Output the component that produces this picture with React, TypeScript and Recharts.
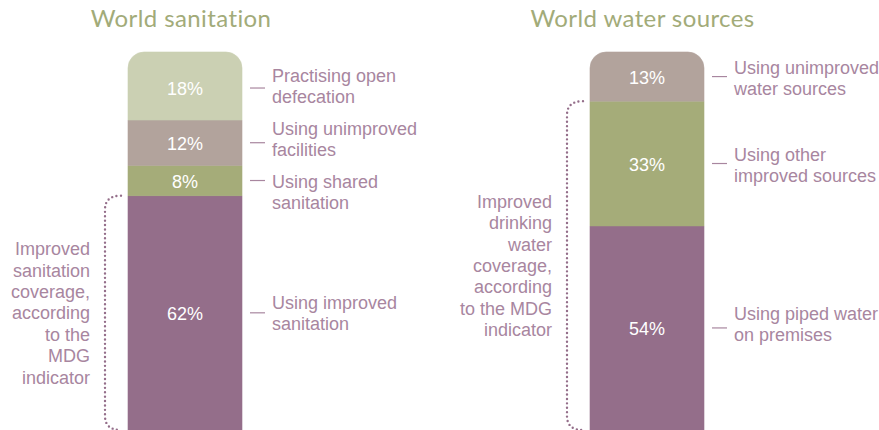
import React from 'react';
import { BarChart, Bar, XAxis, YAxis, ReferenceArea, LabelList } from 'recharts';

// ---- data ----
const sanitationKeys = ['improved', 'shared', 'unimproved', 'openDefecation'];
const sanitationValues = [62, 8, 12, 18];
const sanitationLabels = [
  ['Using improved', 'sanitation'],
  ['Using shared', 'sanitation'],
  ['Using unimproved', 'facilities'],
  ['Practising open', 'defecation'],
];
const sanitationImprovedCount = 1;
const sanitationNote = ['Improved', 'sanitation', 'coverage,', 'according', 'to the', 'MDG', 'indicator'];

const waterKeys = ['piped', 'otherImproved', 'unimproved'];
const waterValues = [54, 33, 13];
const waterLabels = [
  ['Using piped water', 'on premises'],
  ['Using other', 'improved sources'],
  ['Using unimproved', 'water sources'],
];
const waterImprovedCount = 2;
const waterNote = ['Improved', 'drinking', 'water', 'coverage,', 'according', 'to the MDG', 'indicator'];

const titles = ['World sanitation', 'World water sources'];

// ---- styles ----
const PURPLE = '#946e8a';
const OLIVE = '#a5ac79';
const TAUPE = '#b2a39c';
const PALE = '#cbd0b3';
const TEXT = '#a8869f';
const TITLE = '#a2ab79';
const FONT = '"Liberation Sans", Arial, sans-serif';

const sanitationColors = [PURPLE, OLIVE, TAUPE, PALE];
const waterColors = [PURPLE, OLIVE, TAUPE];
// vertical nudges of the side texts (layout only)
const sanitationShift = [0, 11.5, -4, 0];
const waterShift = [-4, 1.5, 1.5];
const sanitationPctShift = [0, 0, 0, 2];
const waterPctShift = [0, 0, 0];

const LINE = 21;

function makeSegmentLabel(pct: number, lines: string[], shift: number, pctShift: number) {
  return (props: any) => {
    const vb = props.viewBox || props;
    const x = Number(vb.x);
    const y = Number(vb.y);
    const w = Number(vb.width);
    const h = Number(vb.height);
    const cy = y + h / 2;
    const right = x + w;
    return (
      <g>
        <text x={x + w / 2} y={cy + 7 + pctShift} textAnchor="middle" fill="#ffffff" fontSize={18} fontFamily={FONT}>
          {pct}%
        </text>
        <line x1={right + 8} x2={right + 23} y1={cy + pctShift} y2={cy + pctShift} stroke={TEXT} strokeWidth={1.2} />
        {lines.map((t, i) => (
          <text
            key={i}
            x={right + 30}
            y={cy + shift + (i - (lines.length - 1) / 2) * LINE + 6.5}
            fill={TEXT}
            fontSize={18}
            fontFamily={FONT}
          >
            {t}
          </text>
        ))}
      </g>
    );
  };
}

function makeBracket(note: string[]) {
  return (props: any) => {
    const x = Number(props.x);
    const y = Number(props.y);
    const h = Number(props.height);
    const top = y;
    const bottom = y + h;
    const lx = x - 23;
    const d = `M ${x - 7} ${top} Q ${lx} ${top} ${lx} ${top + 14} L ${lx} ${bottom - 14} Q ${lx} ${bottom} ${x - 7} ${bottom}`;
    const center = (top + bottom) / 2;
    return (
      <g>
        <path d={d} fill="none" stroke={PURPLE} strokeWidth={2.4} strokeDasharray="0 4.4" strokeLinecap="round" />
        {note.map((t, i) => (
          <text
            key={i}
            x={x - 38}
            y={center + (i - (note.length - 1) / 2) * 21.4 + 6.5}
            textAnchor="end"
            fill={TEXT}
            fontSize={18}
            fontFamily={FONT}
          >
            {t}
          </text>
        ))}
      </g>
    );
  };
}

interface PanelProps {
  name: string;
  keys: string[];
  values: number[];
  labels: string[][];
  colors: string[];
  shifts: number[];
  pctShifts: number[];
  improvedCount: number;
  note: string[];
  left: number;
  width: number;
  mLeft: number;
  mRight: number;
}

function Panel(p: PanelProps) {
  const row: any = { name: p.name };
  p.keys.forEach((k, i) => (row[k] = p.values[i]));
  const improvedTotal = p.values.slice(0, p.improvedCount).reduce((a, b) => a + b, 0);
  const last = p.keys.length - 1;
  return (
    <div style={{ position: 'absolute', left: p.left, top: 0 }}>
      <BarChart
        width={p.width}
        height={430}
        data={[row]}
        margin={{ top: 52, right: p.mRight, bottom: 0, left: p.mLeft }}
        barCategoryGap={0}
        barGap={0}
      >
        <XAxis dataKey="name" hide />
        <YAxis hide domain={[0, 100]} type="number" />
        {p.keys.map((k, i) => (
          <Bar
            key={k}
            dataKey={k}
            stackId="a"
            fill={p.colors[i]}
            stroke={p.colors[i]}
            strokeWidth={0.6}
            isAnimationActive={false}
            radius={i === last ? [16, 16, 0, 0] : [0, 0, 0, 0]}
          >
            <LabelList content={makeSegmentLabel(p.values[i], p.labels[i], p.shifts[i], p.pctShifts[i])} />
          </Bar>
        ))}
        <ReferenceArea y1={0} y2={improvedTotal} ifOverflow="visible" shape={makeBracket(p.note)} />
      </BarChart>
    </div>
  );
}

export default function App() {
  return (
    <div style={{ position: 'absolute', left: 0, top: 0, width: 879, height: 430, background: '#ffffff', overflow: 'hidden' }}>
      <svg width={879} height={430} style={{ position: 'absolute', left: 0, top: 0 }}>
        <text x={181} y={27} textAnchor="middle" fill={TITLE} fontSize={24} letterSpacing={0.4} fontFamily="Lato, sans-serif">
          {titles[0]}
        </text>
        <text x={642.5} y={27} textAnchor="middle" fill={TITLE} fontSize={24} letterSpacing={0.4} fontFamily="Lato, sans-serif">
          {titles[1]}
        </text>
      </svg>
      <Panel
        name={titles[0]}
        keys={sanitationKeys}
        values={sanitationValues}
        labels={sanitationLabels}
        colors={sanitationColors}
        shifts={sanitationShift}
        pctShifts={sanitationPctShift}
        improvedCount={sanitationImprovedCount}
        note={sanitationNote}
        left={0}
        width={440}
        mLeft={128}
        mRight={198}
      />
      <Panel
        name={titles[1]}
        keys={waterKeys}
        values={waterValues}
        labels={waterLabels}
        colors={waterColors}
        shifts={waterShift}
        pctShifts={waterPctShift}
        improvedCount={waterImprovedCount}
        note={waterNote}
        left={440}
        width={439}
        mLeft={150}
        mRight={175}
      />
    </div>
  );
}
